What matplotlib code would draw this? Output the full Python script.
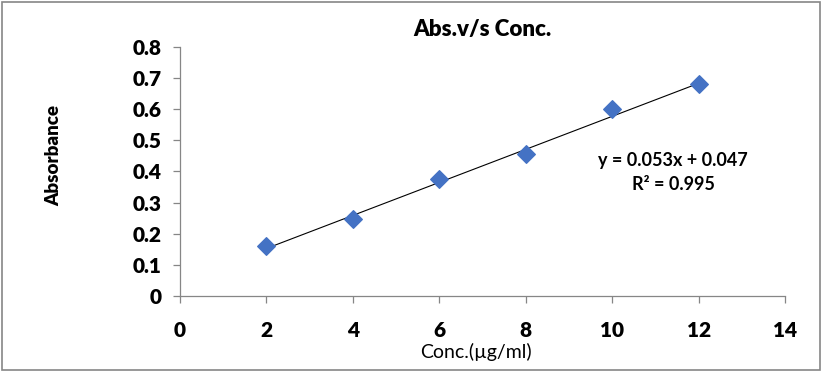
import matplotlib.pyplot as plt
from matplotlib.patches import Rectangle
import numpy as np

# data
conc = [2, 4, 6, 8, 10, 12]
absorbance = [0.162, 0.248, 0.375, 0.456, 0.600, 0.682]
slope = 0.053
intercept = 0.047
r_squared = 0.995
x_ticks = [0, 2, 4, 6, 8, 10, 12, 14]
y_ticks = [0, 0.1, 0.2, 0.3, 0.4, 0.5, 0.6, 0.7, 0.8]

plt.rcParams['font.family'] = ['Lato', 'DejaVu Sans']

fig = plt.figure(figsize=(8.22, 3.72), dpi=100)
ax = fig.add_axes([0.219, 0.204, 0.736, 0.670])

# trendline over the data range
fit_x = np.array([min(conc), max(conc)])
ax.plot(fit_x, slope * fit_x + intercept, color='black', linewidth=0.8, zorder=2)
ax.scatter(conc, absorbance, marker='D', s=80, color='#4472C4', edgecolors='#4472C4', zorder=3)

ax.set_xlim(0, 14)
ax.set_ylim(0, 0.8)
ax.set_xticks(x_ticks)
ax.set_yticks(y_ticks)
ax.set_xticklabels([str(v) for v in x_ticks])
ax.set_yticklabels(['0'] + ['%.1f' % v for v in y_ticks[1:]])

for side in ['top', 'right']:
    ax.spines[side].set_visible(False)
for side in ['left', 'bottom']:
    ax.spines[side].set_color('#868686')
    ax.spines[side].set_linewidth(0.9)

ax.tick_params(axis='x', direction='out', length=5, width=0.9, color='#868686', pad=13,
               labelsize=15)
ax.tick_params(axis='y', direction='out', length=5, width=0.9, color='#868686', pad=8,
               labelsize=15)
for lbl in ax.get_xticklabels() + ax.get_yticklabels():
    lbl.set_fontweight('heavy')

ax.set_title('Abs.v/s Conc.', fontsize=16, fontweight='heavy', pad=8)
fig.text(476 / 822, 1 - 352 / 372, 'Conc.(µg/ml)', ha='center', va='center', fontsize=14)
fig.text(54 / 822, 1 - 155 / 372, 'Absorbance', ha='center', va='center', rotation=90,
         fontsize=13.5, fontweight='heavy')

ax.text(11.41, 0.434, 'y = 0.053x + 0.047', ha='center', va='center', fontsize=13,
        fontweight='bold')
ax.text(11.41, 0.357, 'R² = %.3f' % r_squared, ha='center', va='center', fontsize=13,
        fontweight='bold')

# outer chart border
fig.patches.append(Rectangle((0.003, 0.005), 0.994, 0.99, transform=fig.transFigure,
                             fill=False, edgecolor='#868686', linewidth=1.2))

fig.savefig('out.png', dpi=100)
